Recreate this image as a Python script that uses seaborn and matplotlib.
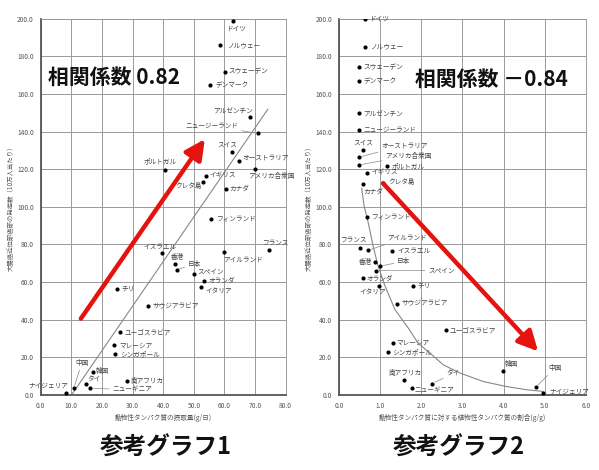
import numpy as np
import pandas as pd
import matplotlib
matplotlib.use("Agg")
import matplotlib.pyplot as plt
import seaborn as sns

# ---- data ----
countries = ["ドイツ", "ノルウェー", "スウェーデン", "デンマーク", "アルゼンチン",
             "ニュージーランド", "スイス", "オーストラリア", "アメリカ合衆国", "ポルトガル",
             "イギリス", "クレタ島", "カナダ", "フィンランド", "イスラエル", "フランス",
             "アイルランド", "香港", "日本", "スペイン", "オランダ", "イタリア", "チリ",
             "サウジアラビア", "ユーゴスラビア", "マレーシア", "シンガポール", "韓国",
             "南アフリカ", "タイ", "中国", "ニューギニア", "ナイジェリア"]

# graph 1: animal protein intake (g/day)
animal_protein = [62.8, 58.7, 60.1, 55.3, 68.2, 70.8, 62.6, 64.7, 70.0, 40.6,
                  54.1, 53.1, 60.6, 55.5, 39.7, 74.5, 59.9, 44.0, 44.5, 50.1,
                  53.3, 52.4, 24.8, 35.0, 26.0, 23.9, 24.4, 17.1, 28.1, 14.7,
                  10.8, 16.2, 8.1]
incidence_1 = [198.7, 186.1, 171.9, 164.8, 147.9, 139.0, 129.4, 124.4, 120.0, 119.8,
               116.4, 113.1, 109.7, 93.5, 75.2, 77.2, 75.7, 69.5, 66.5, 64.2,
               60.6, 57.1, 56.5, 47.1, 33.2, 26.3, 21.7, 11.9, 7.6, 5.7,
               3.6, 3.4, 1.2]

# graph 2: plant / animal protein ratio (g/g)
plant_ratio = [0.63, 0.63, 0.49, 0.49, 0.49, 0.49, 0.59, 0.49, 0.49, 1.17,
               0.69, 1.08, 0.58, 0.67, 1.29, 0.51, 0.70, 0.88, 1.00, 0.90,
               0.59, 0.97, 1.80, 1.41, 2.59, 1.30, 1.20, 3.98, 1.59, 2.27,
               4.79, 1.77, 4.97]
incidence_2 = [200.0, 185.2, 174.4, 166.9, 149.7, 140.8, 130.3, 126.4, 122.3, 121.8,
               118.0, 112.4, 112.0, 94.7, 76.4, 78.2, 76.8, 70.9, 68.4, 66.1,
               62.0, 58.1, 58.1, 48.5, 34.3, 27.5, 22.6, 12.4, 8.0, 6.0,
               4.1, 3.6, 1.2]

# trend line (graph 1) and fitted curve (graph 2)
trend_x = [10.1, 74.2]
trend_y = [0.0, 152.0]
curve_x = [0.55, 0.61, 0.71, 0.83, 0.95, 1.12, 1.36, 1.70, 1.92, 2.21, 2.53, 2.94,
           3.50, 4.07, 4.56, 4.96]
curve_y = [110.0, 100.4, 91.5, 79.0, 68.4, 57.8, 45.3, 35.0, 27.5, 22.2, 16.0, 11.6,
           7.1, 4.4, 2.7, 1.8]

# red arrows (start, end)
arrow1 = [(13.1, 40.5), (53.6, 136.0)]
arrow2 = [(1.07, 112.5), (4.84, 23.1)]

# label placement: dx, dy in pixels, ha, leader line
lab1 = {
    "ドイツ": (-7, -7, "left", False), "ノルウェー": (7, 0, "left", False),
    "スウェーデン": (4, 0, "left", False), "デンマーク": (5, 0, "left", False),
    "アルゼンチン": (3, 6, "right", False), "ニュージーランド": (-19, 8, "right", True),
    "スイス": (5, 7, "right", False), "オーストラリア": (4, 3, "left", False),
    "アメリカ合衆国": (-7, -7, "left", False), "ポルトガル": (-5, 8, "center", False),
    "イギリス": (3, 0, "left", False), "クレタ島": (-2, -4, "right", False),
    "カナダ": (3, 0, "left", False), "フィンランド": (5, 0, "left", False),
    "イスラエル": (-2, 7, "center", False), "フランス": (6, 7, "center", False),
    "アイルランド": (-1, -7, "left", False), "香港": (2, 7, "center", False),
    "日本": (11, 6, "left", True), "スペイン": (3, 2, "left", False),
    "オランダ": (4, 0, "left", False), "イタリア": (4, -4, "left", False),
    "チリ": (5, 0, "left", False), "サウジアラビア": (5, 0, "left", False),
    "ユーゴスラビア": (4, 0, "left", False), "マレーシア": (5, 0, "left", False),
    "シンガポール": (5, 0, "left", False), "韓国": (3, 1, "left", False),
    "南アフリカ": (4, 0, "left", False), "タイ": (2, 4, "left", False),
    "中国": (8, 25, "center", True), "ニューギニア": (22, -1, "left", True),
    "ナイジェリア": (3, 7, "right", False),
}
lab2 = {
    "ドイツ": (4, 0, "left", False), "ノルウェー": (5, 0, "left", False),
    "スウェーデン": (4, 0, "left", False), "デンマーク": (4, 0, "left", False),
    "アルゼンチン": (4, 0, "left", False), "ニュージーランド": (4, 0, "left", False),
    "スイス": (0, 7, "center", False), "オーストラリア": (22, 12, "left", True),
    "アメリカ合衆国": (26, 9, "left", True), "ポルトガル": (4, 0, "left", False),
    "イギリス": (4, 0, "left", False), "クレタ島": (5, 2, "left", False),
    "カナダ": (0, -7, "left", False), "フィンランド": (4, 0, "left", False),
    "イスラエル": (5, 0, "left", False), "フランス": (7, 8, "right", False),
    "アイルランド": (19, 13, "left", True), "香港": (-3, 0, "right", False),
    "日本": (17, 5, "left", True), "スペイン": (52, 0, "left", True),
    "オランダ": (3, 0, "left", False), "イタリア": (7, -7, "right", False),
    "チリ": (4, 0, "left", False), "サウジアラビア": (5, 0, "left", False),
    "ユーゴスラビア": (4, 0, "left", False), "マレーシア": (4, 0, "left", False),
    "シンガポール": (4, 0, "left", False), "韓国": (2, 7, "left", False),
    "南アフリカ": (1, 7, "center", False), "タイ": (14, 10, "left", True),
    "中国": (12, 19, "left", True), "ニューギニア": (3, -3, "left", False),
    "ナイジェリア": (6, 1, "left", False),
}

df1 = pd.DataFrame({"country": countries, "x": animal_protein, "y": incidence_1})
df2 = pd.DataFrame({"country": countries, "x": plant_ratio, "y": incidence_2})

sns.set_theme(style="whitegrid")
plt.rcParams["font.family"] = ["Noto Sans CJK JP", "DejaVu Sans"]

fig = plt.figure(figsize=(5.99, 4.70), dpi=100)
ax1 = fig.add_axes([0.068, 0.160, 0.409, 0.800])
ax2 = fig.add_axes([0.566, 0.160, 0.412, 0.800])

ylab = "大腸癌近位部癌部の発症数（10万人当たり）"


def style_axes(ax, xmax, xstep, xlabel):
    ax.set_xlim(0, xmax)
    ax.set_ylim(0, 200)
    ax.set_xticks(np.arange(0, xmax + xstep / 2, xstep))
    ax.set_yticks(np.arange(0, 201, 20))
    ax.set_xticklabels([f"{v:.1f}" for v in np.arange(0, xmax + xstep / 2, xstep)])
    ax.set_yticklabels([f"{v:.1f}" for v in np.arange(0, 201, 20)])
    ax.tick_params(labelsize=4.8, colors="#555555", length=2, width=0.6, pad=3)
    ax.grid(True, color="#9a9a9a", lw=0.7)
    for s in ["top", "right"]:
        ax.spines[s].set_color("#9a9a9a")
        ax.spines[s].set_linewidth(0.7)
    for s in ["left", "bottom"]:
        ax.spines[s].set_color("#555555")
        ax.spines[s].set_linewidth(1.3)
    ax.set_xlabel(xlabel, fontsize=4.8, color="#555555", labelpad=3)
    ax.set_ylabel(ylab, fontsize=4.6, color="#555555", labelpad=2)
    ax.set_facecolor("white")


def put_labels(ax, df, labs):
    for _, r in df.iterrows():
        dx, dy, ha, lead = labs[r["country"]]
        props = dict(arrowstyle="-", color="#888888", lw=0.5, shrinkA=0, shrinkB=2) if lead else None
        ax.annotate(r["country"], (r["x"], r["y"]), xytext=(dx, dy),
                    textcoords="offset pixels", ha=ha, va="center",
                    fontsize=4.8, color="#444444", arrowprops=props)


arrow_style = dict(arrowstyle="-|>,head_length=1.0,head_width=0.5",
                   color="#e5120f", lw=3.2, shrinkA=0, shrinkB=0)

# graph 1
sns.lineplot(x=trend_x, y=trend_y, ax=ax1, color="#888888", lw=0.8, sort=False, estimator=None)
sns.scatterplot(data=df1, x="x", y="y", ax=ax1, color="black", s=9, linewidth=0, zorder=3)
style_axes(ax1, 80, 10, "動物性タンパク質の摂取量(g/日)")
put_labels(ax1, df1, lab1)
ax1.annotate("", xy=arrow1[1], xytext=arrow1[0], arrowprops=arrow_style, zorder=4)

# graph 2
sns.lineplot(x=curve_x, y=curve_y, ax=ax2, color="#888888", lw=0.8, sort=False, estimator=None)
sns.scatterplot(data=df2, x="x", y="y", ax=ax2, color="black", s=9, linewidth=0, zorder=3)
style_axes(ax2, 6, 1, "動物性タンパク質に対する植物性タンパク質の割合(g/g)")
put_labels(ax2, df2, lab2)
ax2.annotate("", xy=arrow2[1], xytext=arrow2[0], arrowprops=arrow_style, zorder=4)

# correlation notes and captions
fig.text(48 / 599, 1 - 77 / 470, "相関係数 0.82", fontsize=15, fontweight="bold",
         ha="left", va="center", color="#111111")
fig.text(415 / 599, 1 - 79 / 470, "相関係数 －0.84", fontsize=15, fontweight="bold",
         ha="left", va="center", color="#111111")
fig.text(166 / 599, 1 - 448 / 470, "参考グラフ1", fontsize=17, fontweight="bold",
         ha="center", va="center", color="#111111")
fig.text(459 / 599, 1 - 448 / 470, "参考グラフ2", fontsize=17, fontweight="bold",
         ha="center", va="center", color="#111111")

fig.savefig("out.png", dpi=100, facecolor="white")
